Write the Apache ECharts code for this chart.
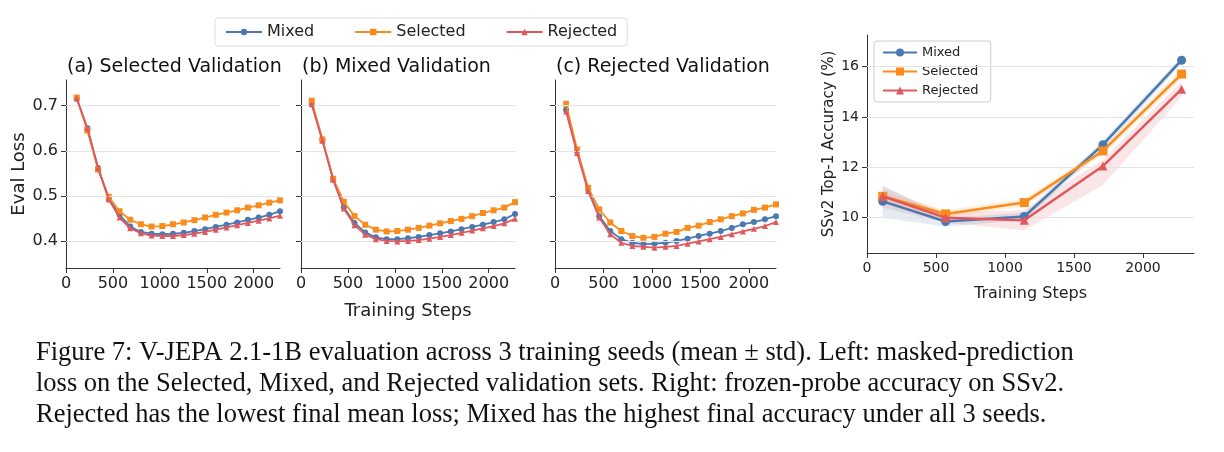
<!DOCTYPE html>
<html lang="en">
<head>
<meta charset="UTF-8">
<title>V-JEPA evaluation</title>
<script src="https://cdn.jsdelivr.net/npm/echarts@6/dist/echarts.min.js"></script>
<style>body{margin:0;background:#fff}</style>
</head>
<body>
<div id="main" style="width:1224px;height:452px;"></div>
<script>
// training steps for the loss curves (every 114 steps)
var steps = [114,228,342,456,570,684,798,912,1026,1140,1254,1368,1482,1596,1710,1824,1938,2052,2166,2280];
// (a) selected validation
var aSelected = [.718,.645,.558,.498,.466,.447,.437,.432,.433,.437,.441,.446,.452,.458,.463,.468,.474,.479,.485,.490];
var aMixed    = [.716,.650,.562,.493,.458,.432,.420,.416,.415,.416,.418,.422,.426,.431,.436,.441,.447,.452,.458,.466];
var aRejected = [.716,.650,.562,.492,.452,.428,.417,.412,.411,.411,.413,.416,.420,.425,.430,.435,.440,.445,.450,.456];
// (b) mixed validation
var bSelected = [.711,.625,.538,.487,.455,.436,.425,.421,.422,.425,.429,.434,.439,.444,.449,.455,.462,.468,.474,.486];
var bMixed    = [.704,.625,.538,.475,.440,.419,.408,.404,.404,.406,.409,.413,.417,.421,.426,.431,.436,.442,.448,.460];
var bRejected = [.703,.622,.536,.472,.435,.414,.404,.400,.399,.400,.402,.405,.409,.413,.418,.423,.428,.433,.439,.449];
// (c) rejected validation
var cSelected = [.704,.603,.518,.470,.441,.422,.411,.407,.409,.416,.420,.429,.434,.442,.448,.455,.461,.469,.474,.481];
var cMixed    = [.691,.599,.514,.455,.422,.404,.396,.393,.394,.396,.400,.405,.411,.416,.422,.429,.437,.442,.448,.455];
var cRejected = [.687,.595,.511,.452,.415,.396,.389,.387,.385,.387,.389,.394,.399,.404,.409,.415,.421,.427,.433,.442];
// SSv2 probe accuracy
var probeSteps = [114,570,1140,1710,2280];
var accMixed    = [10.65,9.85,10.05,12.9,16.25];
var accSelected = [10.85,10.15,10.6,12.65,15.7];
var accRejected = [10.85,10.0,9.9,12.05,15.1];
var mixedLo = [10.0,9.65,9.9,12.7,16.1],   mixedHi = [11.3,10.0,10.2,13.05,16.4];
var selLo   = [10.6,10.0,10.45,12.5,15.5], selHi   = [11.0,10.3,10.75,12.8,15.9];
var rejLo   = [10.4,9.8,9.5,11.3,14.8],    rejHi   = [11.2,10.2,10.3,12.3,15.4];
var lossTicks = [0.4,0.5,0.6,0.7];
var accTicks = [10,12,14,16];

var titles = ['(a) Selected Validation','(b) Mixed Validation','(c) Rejected Validation'];
var lossSets = [[aMixed,aSelected,aRejected],[bMixed,bSelected,bRejected],[cMixed,cSelected,cRejected]];
var names = ['Mixed','Selected','Rejected'];
var colors = ['#4a78b0','#f98c1c','#e0585c'];
var symbols = ['circle','rect','triangle'];

var font = 'DejaVu Sans';
var lefts = [66,301,555];
var widths = [214,214,221];

function pairs(xs, ys){ return xs.map(function(x,i){ return [x, ys[i]]; }); }
function plain(v){ return String(v); }

var grids = [], xAxes = [], yAxes = [], series = [];
lefts.forEach(function(l,i){
    grids.push({left:l, top:80, width:widths[i], height:188});
    xAxes.push({type:'value', gridIndex:i, min:0, max:2280, interval:500,
        name: i==1 ? 'Training Steps' : '', nameLocation:'center', nameGap:34,
        nameTextStyle:{fontFamily:font, fontSize:18, color:'#222'},
        axisLine:{lineStyle:{color:'#333'}}, axisTick:{show:true, lineStyle:{color:'#333'}},
        axisLabel:{fontFamily:font, fontSize:16, color:'#222', showMaxLabel:false, formatter:plain},
        splitLine:{show:false}});
    yAxes.push({type:'value', gridIndex:i, min:0.34, max:0.757,
        name: i==0 ? 'Eval Loss' : '', nameLocation:'center', nameGap:34,
        nameTextStyle:{fontFamily:font, fontSize:18, color:'#222'},
        axisLine:{show:true, lineStyle:{color:'#333'}},
        axisTick:{show:true, customValues:lossTicks, lineStyle:{color:'#333'}},
        axisLabel:{show:i==0, customValues:lossTicks, fontFamily:font, fontSize:16, color:'#222',
            formatter:function(v){ return v.toFixed(1); }},
        splitLine:{show:false}});
    lossSets[i].forEach(function(d,k){
        series.push({name:names[k], type:'line', xAxisIndex:i, yAxisIndex:i, data:pairs(steps,d),
            symbol:symbols[k], symbolSize:6, lineStyle:{width:1.8, color:colors[k]},
            itemStyle:{color:colors[k]}, z:3+k});
    });
    // light horizontal grid lines at the tick values
    series.push({type:'line', xAxisIndex:i, yAxisIndex:i, data:[], silent:true, z:1,
        markLine:{silent:true, symbol:'none', label:{show:false}, animation:false,
            lineStyle:{color:'#e4e4e4', type:'solid', width:1},
            data:lossTicks.map(function(t){ return {yAxis:t}; })}});
});

// right panel
grids.push({left:867, top:35, width:327, height:218});
xAxes.push({type:'value', gridIndex:3, min:0, max:2370, interval:500,
    name:'Training Steps', nameLocation:'center', nameGap:33,
    nameTextStyle:{fontFamily:font, fontSize:16, color:'#222'},
    axisLine:{lineStyle:{color:'#333'}}, axisTick:{show:true, lineStyle:{color:'#333'}},
    axisLabel:{fontFamily:font, fontSize:14, color:'#222', showMaxLabel:false, formatter:plain},
    splitLine:{show:false}});
yAxes.push({type:'value', gridIndex:3, min:8.6, max:17.25,
    name:'SSv2 Top-1 Accuracy (%)', nameLocation:'center', nameGap:30,
    nameTextStyle:{fontFamily:font, fontSize:15, color:'#222'},
    axisLine:{show:true, lineStyle:{color:'#333'}},
    axisTick:{show:true, customValues:accTicks, lineStyle:{color:'#333'}},
    axisLabel:{fontFamily:font, fontSize:14, color:'#222', customValues:accTicks},
    splitLine:{show:false}});
series.push({type:'line', xAxisIndex:3, yAxisIndex:3, data:[], silent:true, z:1,
    markLine:{silent:true, symbol:'none', label:{show:false}, animation:false,
        lineStyle:{color:'#e4e4e4', type:'solid', width:1},
        data:accTicks.map(function(t){ return {yAxis:t}; })}});

// std bands drawn as polygons through the axis scale
var bands = [[mixedLo,mixedHi],[selLo,selHi],[rejLo,rejHi]];
bands.forEach(function(b,k){
    series.push({type:'custom', xAxisIndex:3, yAxisIndex:3, silent:true, z:2,
        data:probeSteps.map(function(x,i){ return [x, b[0][i], b[1][i]]; }),
        renderItem:function(params, api){
            if (params.dataIndex !== 0) return;
            var top = [], bot = [];
            for (var i = 0; i < probeSteps.length; i++){
                top.push(api.coord([probeSteps[i], b[1][i]]));
                bot.unshift(api.coord([probeSteps[i], b[0][i]]));
            }
            return {type:'polygon', shape:{points:top.concat(bot)},
                style:{fill:colors[k], opacity:0.15}};
        }});
});
[accMixed,accSelected,accRejected].forEach(function(d,k){
    series.push({name:names[k]+' ', type:'line', xAxisIndex:3, yAxisIndex:3, data:pairs(probeSteps,d),
        symbol:symbols[k], symbolSize:9, lineStyle:{width:2.5, color:colors[k]},
        itemStyle:{color:colors[k]}, z:5+k});
});

var option = {
    animation:false,
    backgroundColor:'#fff',
    title: titles.map(function(t,i){
        return {text:t, left:lefts[i]-4, top:53, textStyle:{fontFamily:font, fontSize:19, fontWeight:'normal', color:'#111'}};
    }),
    legend:[
        {data:names, left:215, top:18, itemWidth:36, itemHeight:8, itemGap:40, padding:[6,10],
            borderColor:'#ddd', borderWidth:1, borderRadius:3,
            textStyle:{fontFamily:font, fontSize:16, color:'#222'}},
        {data:names.map(function(n){ return n+' '; }), orient:'vertical', left:874, top:41,
            itemWidth:34, itemHeight:10, itemGap:6, padding:[5,8],
            borderColor:'#ccc', borderWidth:1, borderRadius:3, backgroundColor:'#fff',
            textStyle:{fontFamily:font, fontSize:13, color:'#222'}}
    ],
    grid:grids, xAxis:xAxes, yAxis:yAxes, series:series,
    graphic:[{type:'text', left:36, top:338, style:{
        text:'Figure 7: V-JEPA 2.1-1B evaluation across 3 training seeds (mean \u00b1 std). Left: masked-prediction\n' +
             'loss on the Selected, Mixed, and Rejected validation sets. Right: frozen-probe accuracy on SSv2.\n' +
             'Rejected has the lowest final mean loss; Mixed has the highest final accuracy under all 3 seeds.',
        font:'26.5px "Liberation Serif"', lineHeight:31, fill:'#111'}}]
};
var myChart = echarts.init(document.getElementById('main'));
myChart.setOption(option);
</script>
</body>
</html>
